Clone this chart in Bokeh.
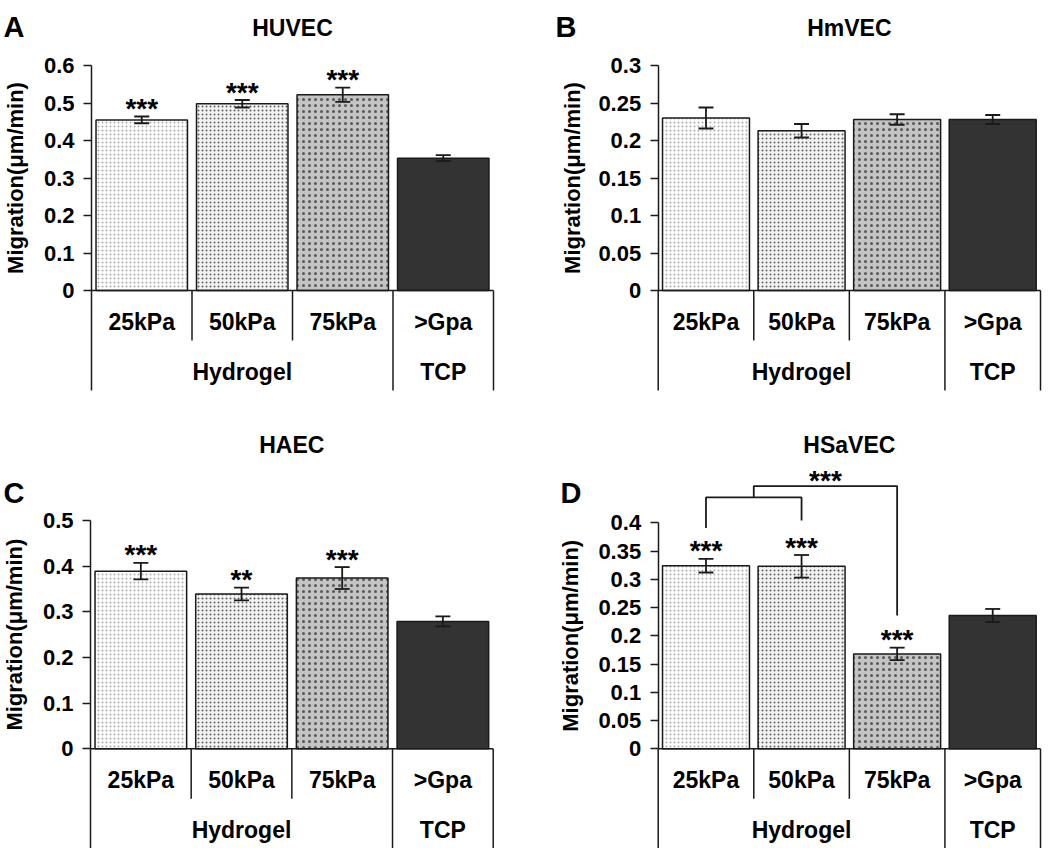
import numpy as np
from bokeh.plotting import figure
from bokeh.layouts import gridplot
from bokeh.models import (Range1d, FixedTicker, Label, ColumnDataSource, Whisker,
                          TeeHead, NumeralTickFormatter, LinearAxis)
from bokeh.core.properties import value
from bokeh.embed import file_html
from bokeh.resources import INLINE

# ---------------- data ----------------
categories = ["25kPa", "50kPa", "75kPa", ">Gpa"]
group_labels = ["Hydrogel", "TCP"]
group_sizes = [3, 1]

huvec_mean = [0.455, 0.498, 0.522, 0.353]
huvec_err = [0.009, 0.010, 0.019, 0.008]
huvec_sig = ["***", "***", "***", ""]

hmvec_mean = [0.230, 0.213, 0.228, 0.228]
hmvec_err = [0.014, 0.009, 0.007, 0.006]
hmvec_sig = ["", "", "", ""]

haec_mean = [0.389, 0.339, 0.374, 0.279]
haec_err = [0.018, 0.014, 0.024, 0.011]
haec_sig = ["***", "**", "***", ""]

hsavec_mean = [0.324, 0.323, 0.168, 0.236]
hsavec_err = [0.012, 0.020, 0.011, 0.0115]
hsavec_sig = ["***", "***", "***", ""]

# HSaVEC comparison bracket: (25kPa, 50kPa) vs 75kPa
bracket_sig = "***"

FONT = "Liberation Sans"
INK = "#1a1a1a"

bar_styles = [
    dict(fill_color="white", hatch_pattern="dot", hatch_color="#aaaaaa", hatch_scale=4, hatch_weight=1.3),
    dict(fill_color="#f4f4f4", hatch_pattern="dot", hatch_color="#606060", hatch_scale=4, hatch_weight=2.0),
    dict(fill_color="#c4c4c4", hatch_pattern="dot", hatch_color="#585858", hatch_scale=6, hatch_weight=4.0),
    dict(fill_color="#333333"),
]


def panel(letter, title, means, errs, sigs, y_top, step, fig, ax_px, right_px, zero_px, top_px,
          label_x, letter_x, letter_base, title_y, bracket=None):
    x0, y0, w, h = fig
    ppc = (right_px - ax_px) / 4.0
    x_start = -(ax_px - x0) / ppc
    x_end = 4 + (x0 + w - right_px) / ppc
    ppu = (zero_px - top_px) / y_top
    y_end = (zero_px - y0) / ppu
    y_start = -(y0 + h - zero_px) / ppu

    p = figure(width=w, height=h, x_range=Range1d(x_start, x_end), y_range=Range1d(y_start, y_end),
               output_backend="svg", toolbar_location=None, tools="", x_axis_location=None,
               y_axis_location=None, min_border=0)
    p.outline_line_color = None
    p.grid.visible = False
    p.background_fill_color = "white"
    p.border_fill_color = "white"

    n = int(round(y_top / step))
    ax = LinearAxis(fixed_location=0, bounds=(0, y_top),
                    ticker=FixedTicker(ticks=[round(i * step, 4) for i in range(n + 1)]),
                    formatter=NumeralTickFormatter(format="0.[00]"))
    ax.minor_tick_line_color = None
    ax.major_tick_out = 8
    ax.major_tick_in = 0
    ax.major_tick_line_width = 1.5
    ax.major_tick_line_color = INK
    ax.axis_line_width = 1.5
    ax.axis_line_color = INK
    ax.major_label_standoff = 9
    ax.major_label_text_font = FONT
    ax.major_label_text_font_style = "bold"
    ax.major_label_text_font_size = "22px"
    ax.major_label_text_color = "black"
    p.add_layout(ax, "left")

    xs = [i + 0.5 for i in range(len(categories))]
    for i, (x, m) in enumerate(zip(xs, means)):
        p.vbar(x=[x], top=[m], bottom=0, width=0.91, line_color=INK, line_width=1.5, **bar_styles[i])

    src = ColumnDataSource(dict(x=xs, upper=[m + e for m, e in zip(means, errs)],
                                lower=[m - e for m, e in zip(means, errs)], sig=sigs))
    w_ = Whisker(source=src, base="x", upper="upper", lower="lower", line_color=INK, line_width=1.8,
                 upper_head=TeeHead(size=15, line_width=1.8, line_color=INK),
                 lower_head=TeeHead(size=15, line_width=1.8, line_color=INK), level="overlay")
    p.add_layout(w_)
    p.text(x="x", y="upper", text="sig", source=src, text_align="center", text_baseline="alphabetic",
           y_offset=-8, text_font=value(FONT), text_font_style="bold", text_font_size="28px",
           text_color="black")

    # category table below the axis
    p.segment(x0=[0], y0=[0], x1=[4], y1=[0], line_color=INK, line_width=1.5)
    bounds = [0]
    for s in group_sizes:
        bounds.append(bounds[-1] + s)
    for b in range(len(categories) + 1):
        long_line = b in bounds
        yb = max(-100 / ppu, y_start) if long_line else -50 / ppu
        p.segment(x0=[b], y0=[0], x1=[b], y1=[yb], line_color=INK, line_width=1.5)
    p.text(x=xs, y=[-31 / ppu] * len(xs), text=categories, text_align="center", text_baseline="middle",
           text_font=value(FONT), text_font_style="bold", text_font_size="23px", text_color="black")
    gx = [(bounds[k] + bounds[k + 1]) / 2 for k in range(len(group_labels))]
    p.text(x=gx, y=[-81 / ppu] * len(gx), text=group_labels, text_align="center", text_baseline="middle",
           text_font=value(FONT), text_font_style="bold", text_font_size="23px", text_color="black")

    # titles and labels
    p.add_layout(Label(x=2, y=(zero_px - title_y) / ppu, text=title, text_align="center",
                       text_baseline="middle", text_font=FONT, text_font_style="bold",
                       text_font_size="23px", text_color="black"))
    p.add_layout(Label(x=letter_x - x0, x_units="screen", y=y0 + h - letter_base, y_units="screen",
                       text=letter, text_align="left", text_baseline="alphabetic", text_font=FONT,
                       text_font_style="bold", text_font_size="29px", text_color="black"))
    p.add_layout(Label(x=label_x - x0, x_units="screen", y=y_top / 2, y_units="data",
                       text="Migration(\u03bcm/min)", angle=np.pi / 2, text_align="center",
                       text_baseline="middle", text_font=FONT, text_font_style="bold",
                       text_font_size="22px", text_color="black"))

    if bracket is not None:
        lb, rb, top_in, top_out, rb_out, a, b_, c = bracket
        mid = (xs[a] + xs[b_]) / 2
        p.line(x=[xs[a], xs[a], xs[b_], xs[b_]], y=[lb, top_in, top_in, rb], line_color=INK, line_width=1.8)
        p.line(x=[mid, mid, xs[c], xs[c]], y=[top_in, top_out, top_out, rb_out], line_color=INK, line_width=1.8)
        p.text(x=[(mid + xs[c]) / 2], y=[top_out], text=[bracket_sig], text_align="center",
               text_baseline="alphabetic", y_offset=-6, text_font=value(FONT), text_font_style="bold",
               text_font_size="28px", text_color="black")
    return p


pA = panel("A", "HUVEC", huvec_mean, huvec_err, huvec_sig, 0.6, 0.1, (0, 0, 520, 420),
           91, 493, 290, 65, 15, 3, 26, 27)
pB = panel("B", "HmVEC", hmvec_mean, hmvec_err, hmvec_sig, 0.3, 0.05, (520, 0, 530, 420),
           657.7, 1040, 290, 65, 572, 555, 26, 27)
pC = panel("C", "HAEC", haec_mean, haec_err, haec_sig, 0.5, 0.1, (0, 420, 520, 428),
           90, 492.7, 748.3, 520, 14, 3, 492, 444)
pD = panel("D", "HSaVEC", hsavec_mean, hsavec_err, hsavec_sig, 0.4, 0.05, (520, 420, 530, 428),
           657.7, 1040, 748.3, 522.3, 570, 560, 492, 444,
           bracket=(0.391, 0.404, 0.445, 0.465, 0.236, 0, 1, 2))

grid = gridplot([[pA, pB], [pC, pD]], toolbar_location=None)
open("out.html", "w").write(file_html(grid, INLINE))
